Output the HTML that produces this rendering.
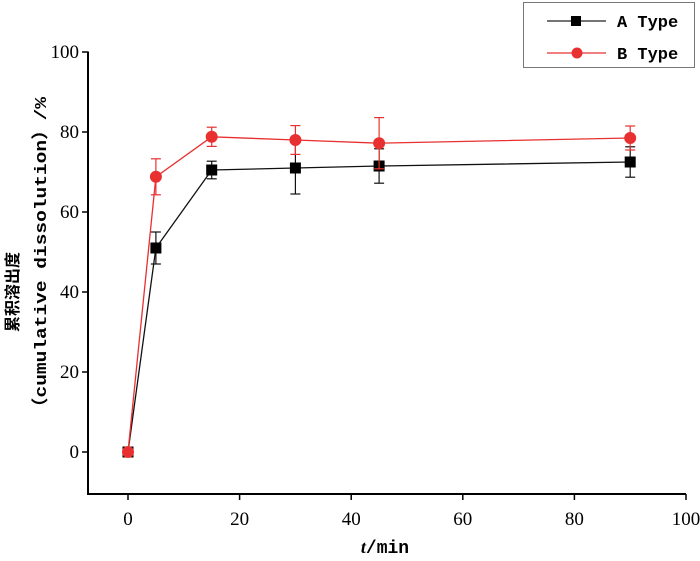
<!DOCTYPE html>
<html><head><meta charset="utf-8"><style>
body{margin:0;background:#fff;}
.serif{font-family:"Liberation Serif","Noto Serif CJK SC",serif;}
.mono{font-family:"Liberation Mono","Noto Sans CJK SC",monospace;}
</style></head><body>
<svg id="chart" width="700" height="556" xmlns="http://www.w3.org/2000/svg">
<g id="axes"></g><g id="series"></g>
<g>
<rect x="523.5" y="2.5" width="171" height="65" fill="#fff" stroke="#777" stroke-width="1"/>
<line x1="547" y1="21" x2="606" y2="21" stroke="#222" stroke-width="1.2"/>
<rect x="571" y="16" width="10" height="10" fill="#000"/>
<text x="617" y="27" font-size="17" font-weight="bold" class="mono">A Type</text>
<line x1="547" y1="53" x2="606" y2="53" stroke="#e83030" stroke-width="1.2"/>
<circle cx="577" cy="53" r="5.5" fill="#e83030"/>
<text x="617" y="59" font-size="17" font-weight="bold" class="mono">B Type</text>
</g>
<text x="385" y="553" font-size="18" font-weight="bold" text-anchor="middle" class="mono"><tspan font-style="italic" class="serif">t</tspan>/min</text>
<text transform="translate(18,292) rotate(-90)" font-size="16" text-anchor="middle" font-weight="bold" style="font-family:'Noto Sans CJK SC',sans-serif">累积溶出度</text>
<text transform="translate(46,257) rotate(-90)" font-size="17" font-weight="bold" text-anchor="middle" textLength="320" lengthAdjust="spacingAndGlyphs" class="mono">（cumulative dissolution）/%</text>
</svg>
<script>
const times=[0,5,15,30,45,90];
const aVals=[0,51,70.5,71,71.5,72.5];
const aErr=[0,4,2.2,6.5,4.3,3.8];
const bVals=[0,68.8,78.8,78,77.2,78.5];
const bErr=[0,4.5,2.4,3.6,6.4,3];
const xTicks=[0,20,40,60,80,100];
const yTicks=[0,20,40,60,80,100];
const X=v=>128+v*5.58, Y=v=>452-v*4.0;
const NS="http://www.w3.org/2000/svg";
function mk(p,t,a){const e=document.createElementNS(NS,t);for(const k in a)e.setAttribute(k,a[k]);p.appendChild(e);return e;}
const ax=document.getElementById('axes'), se=document.getElementById('series');
const x0=88,yb=494;
let l=mk(ax,'line',{x1:x0,y1:Y(100)-0.5,x2:x0,y2:yb,stroke:'#000','stroke-width':2});

l=mk(ax,'line',{x1:x0-1,y1:yb,x2:686,y2:yb,stroke:'#000','stroke-width':2});

yTicks.forEach(v=>{mk(ax,'line',{x1:x0-6,y1:Y(v),x2:x0,y2:Y(v),stroke:'#000','stroke-width':1.5});
 const t=mk(ax,'text',{x:x0-9,y:Y(v)+6,'font-size':19,'text-anchor':'end',class:'serif'});t.textContent=v;
 });
xTicks.forEach(v=>{mk(ax,'line',{x1:X(v),y1:yb,x2:X(v),y2:yb+6,stroke:'#000','stroke-width':1.5});
 const t=mk(ax,'text',{x:X(v),y:yb+31,'font-size':19,'text-anchor':'middle',class:'serif'});t.textContent=v;
 });
function series(vals,err,col,kind,name){
 const g=mk(se,'g',{});
 
 mk(g,'polyline',{points:times.map((t,i)=>X(t)+','+Y(vals[i])).join(' '),fill:'none',stroke:col,'stroke-width':1.3});
 times.forEach((t,i)=>{if(err[i]>0){const x=X(t),y1=Y(vals[i]+err[i]),y2=Y(vals[i]-err[i]);
  mk(g,'line',{x1:x,y1:y1,x2:x,y2:y2,stroke:col,'stroke-width':1.2});
  mk(g,'line',{x1:x-5,y1:y1,x2:x+5,y2:y1,stroke:col,'stroke-width':1.2});
  mk(g,'line',{x1:x-5,y1:y2,x2:x+5,y2:y2,stroke:col,'stroke-width':1.2});}});
 times.forEach((t,i)=>{let m;
  if(kind==='sq')m=mk(g,'rect',{x:X(t)-5.5,y:Y(vals[i])-5.5,width:11,height:11,fill:'#000'});
  else m=mk(g,'circle',{cx:X(t),cy:Y(vals[i]),r:6,fill:col});
  });
}
series(aVals,aErr,'#111','sq','series-a-type');
series(bVals,bErr,'#e83030','ci','series-b-type');
</script>
</body></html>
